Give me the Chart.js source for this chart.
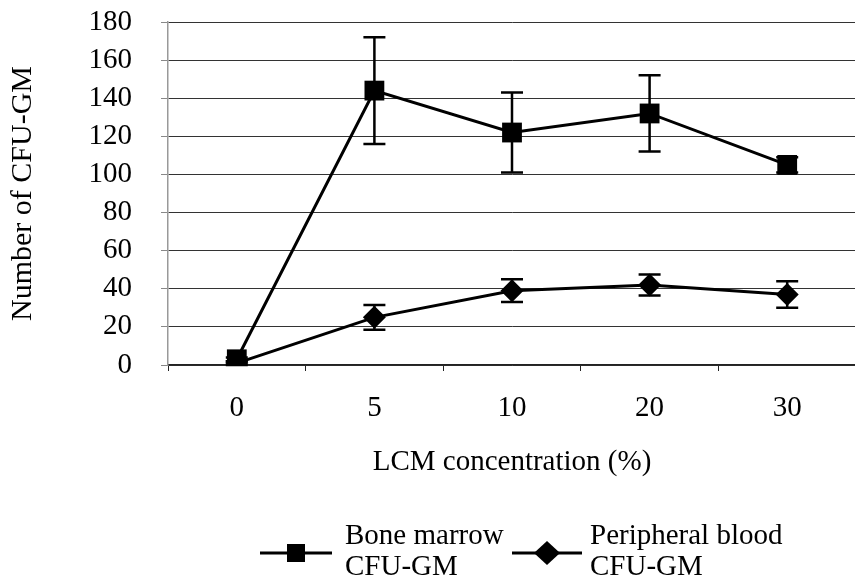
<!DOCTYPE html>
<html><head><meta charset="utf-8">
<script src="https://cdn.jsdelivr.net/npm/chart.js@4.4.1/dist/chart.umd.min.js"></script>
<style>html,body{margin:0;padding:0;background:#fff;overflow:hidden;width:855px;height:578px}
canvas{display:block}</style></head>
<body><canvas id="c" width="870" height="578" style="width:870px;height:578px"></canvas>
<script>
const categories = ['0', '5', '10', '20', '30'];
const boneMarrow = [3, 144, 122, 132, 105];
const boneMarrowErr = [1, 28, 21, 20, 4];
const peripheralBlood = [1, 25, 39, 42, 37];
const peripheralBloodErr = [1, 6.5, 6, 5.5, 7];
const seriesLabels = [['Bone marrow', 'CFU-GM'], ['Peripheral blood', 'CFU-GM']];
const yMin = 0, yMax = 180, yStep = 20;
const xTitle = 'LCM concentration (%)';
const yTitle = 'Number of CFU-GM';

const FAMILY = "'Liberation Serif', 'Times New Roman', serif";
const FONT = {family: FAMILY, size: 29};
const YTITLE_FONT = {family: FAMILY, size: 30};

const errorBars = {
  id: 'errorBars',
  beforeDatasetsDraw(chart) {
    const ctx = chart.ctx, ys = chart.scales.y;
    chart.data.datasets.forEach((ds, i) => {
      const meta = chart.getDatasetMeta(i);
      ctx.save();
      ctx.strokeStyle = '#000';
      ctx.lineWidth = 2.5;
      meta.data.forEach((pt, j) => {
        const v = ds.data[j], e = ds.errors[j];
        const yt = ys.getPixelForValue(v + e), yb = ys.getPixelForValue(v - e);
        const x = pt.x, w = 11;
        ctx.beginPath();
        ctx.moveTo(x, yt); ctx.lineTo(x, yb);
        ctx.moveTo(x - w, yt); ctx.lineTo(x + w, yt);
        ctx.moveTo(x - w, yb); ctx.lineTo(x + w, yb);
        ctx.stroke();
      });
      ctx.restore();
    });
  }
};

const customLegend = {
  id: 'customLegend',
  afterDraw(chart) {
    const ctx = chart.ctx;
    const entries = [
      {x0: 260, x1: 332, tx: 345, style: 'rect', size: 9},
      {x0: 512, x1: 582, tx: 590, style: 'rectRot', size: 13}
    ];
    const ly = 553;
    ctx.save();
    chart.data.datasets.forEach((ds, i) => {
      const e = entries[i];
      ctx.strokeStyle = '#000';
      ctx.fillStyle = '#000';
      ctx.lineWidth = 3;
      ctx.beginPath(); ctx.moveTo(e.x0, ly); ctx.lineTo(e.x1, ly); ctx.stroke();
      const cx = (e.x0 + e.x1) / 2;
      ctx.beginPath();
      if (e.style === 'rect') {
        ctx.rect(cx - e.size, ly - e.size, 2 * e.size, 2 * e.size);
      } else {
        ctx.moveTo(cx, ly - e.size + 1); ctx.lineTo(cx + e.size, ly);
        ctx.lineTo(cx, ly + e.size - 1); ctx.lineTo(cx - e.size, ly);
        ctx.closePath();
      }
      ctx.fill();
      ctx.font = FONT.size + 'px ' + FONT.family;
      ctx.textAlign = 'left';
      ctx.textBaseline = 'alphabetic';
      ds.legendLines.forEach((t, k) => ctx.fillText(t, e.tx, 544 + k * 31));
    });
    ctx.restore();
  }
};

new Chart(document.getElementById('c'), {
  type: 'line',
  data: {
    labels: categories,
    datasets: [
      {label: seriesLabels[0].join(' '), legendLines: seriesLabels[0], data: boneMarrow, errors: boneMarrowErr,
       borderColor: '#000', backgroundColor: '#000', borderWidth: 3, tension: 0,
       pointStyle: 'rect', pointRadius: 14, pointBackgroundColor: '#000', pointBorderWidth: 0},
      {label: seriesLabels[1].join(' '), legendLines: seriesLabels[1], data: peripheralBlood, errors: peripheralBloodErr,
       borderColor: '#000', backgroundColor: '#000', borderWidth: 3, tension: 0,
       pointStyle: 'rectRot', pointRadius: 11.5, pointBackgroundColor: '#000', pointBorderWidth: 0}
    ]
  },
  options: {
    responsive: false, animation: false, events: [],
    layout: {padding: {top: 22, right: 7, left: 0, bottom: 88}},
    plugins: {legend: {display: false}, tooltip: {enabled: false}},
    scales: {
      x: {
        offset: true,
        grid: {display: true, drawOnChartArea: false, drawTicks: true, tickLength: 6, color: '#222', offset: true},
        border: {display: true, color: '#222', width: 1.5},
        ticks: {font: FONT, color: '#000', padding: 20, maxRotation: 0, autoSkip: false},
        title: {display: true, text: xTitle, font: FONT, color: '#000', padding: {top: 0, bottom: 10}},
        afterFit(s) { s.height = 125; }
      },
      y: {
        min: yMin, max: yMax,
        ticks: {stepSize: yStep, font: FONT, color: '#000', padding: 29, autoSkip: false},
        grid: {color: '#333', tickColor: '#888', tickLength: 7, lineWidth: 1},
        border: {display: true, color: '#999', width: 1.5},
        title: {display: true, text: yTitle, font: YTITLE_FONT, color: '#000', padding: {top: 5, bottom: 0}},
        afterFit(s) { s.width = 168; s.paddingTop = 0; s.paddingBottom = 0; }
      }
    }
  },
  plugins: [errorBars, customLegend]
});
</script>
</body></html>
